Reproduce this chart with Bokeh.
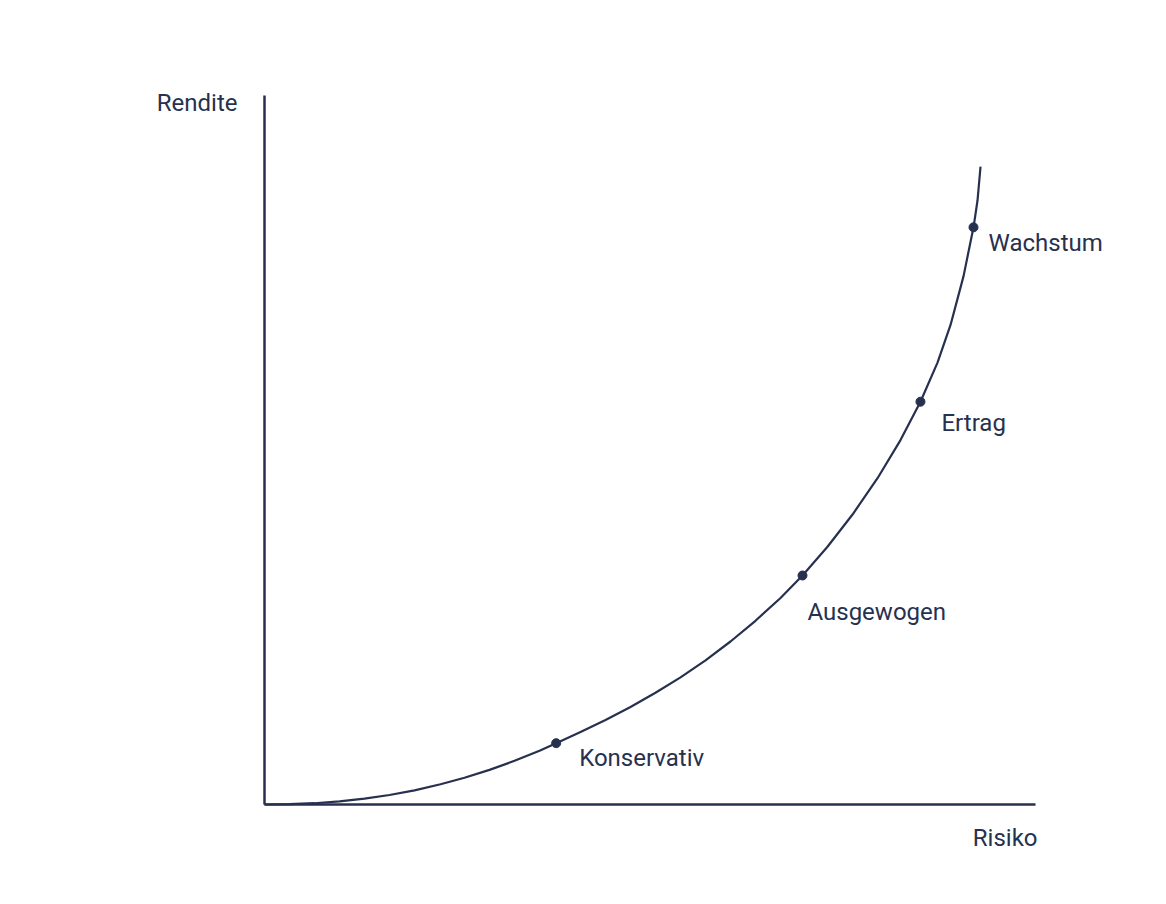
from bokeh.plotting import figure
from bokeh.models import Range1d, ColumnDataSource, LabelSet, Label
from bokeh.core.properties import value
from bokeh.embed import file_html
from bokeh.resources import INLINE

# Efficient-frontier style curve: risk (x) vs. return (y), both on a 0-100 scale
curve_risk = [0, 3.24, 6.49, 9.73, 12.97, 16.21, 19.46, 22.83, 25.94, 29.18, 32.43,
              35.67, 37.83, 40.99, 44.23, 47.47, 50.71, 53.96, 57.20, 60.44, 63.68,
              66.93, 69.78, 73.02, 76.27, 79.51, 82.49, 85.08, 87.29, 88.98, 90.66,
              91.96, 92.48, 92.87]
curve_return = [0, 0.04, 0.18, 0.44, 0.82, 1.34, 2.00, 2.85, 3.77, 4.88, 6.16,
                7.59, 8.65, 10.21, 11.92, 13.75, 15.76, 17.93, 20.34, 22.99, 25.91,
                29.13, 32.30, 36.35, 40.90, 46.02, 51.40, 56.81, 62.33, 67.64, 74.49,
                81.41, 85.19, 89.98]

# Model portfolios placed on the curve
portfolio_names = ["Konservativ", "Ausgewogen", "Ertrag", "Wachstum"]
portfolio_risk = [37.83, 69.78, 85.08, 91.96]
portfolio_return = [8.65, 32.30, 56.81, 81.41]

axis_max = 100
x_title = "Risiko"
y_title = "Rendite"

INK = "#27314f"
FONT = "Roboto"
FONT_SIZE = "24px"

W, H = 1166, 904
# pixel scale: 7.71 px per risk unit, 7.09 px per return unit
px_x, px_y = 7.71, 7.09
origin_px = (264, 804)

p = figure(width=W, height=H, output_backend="svg", toolbar_location=None,
           x_range=Range1d(-origin_px[0] / px_x, (W - origin_px[0]) / px_x),
           y_range=Range1d(-(H - origin_px[1]) / px_y, origin_px[1] / px_y),
           min_border=0, min_border_left=0, min_border_right=0,
           min_border_top=0, min_border_bottom=0)
p.axis.visible = False
p.grid.visible = False
p.outline_line_color = None
p.background_fill_color = "white"
p.border_fill_color = "white"

# axes drawn as plain lines from the origin
p.line([0, axis_max], [0, 0], line_color=INK, line_width=2.5)
p.line([0, 0], [0, axis_max], line_color=INK, line_width=2.5)

p.line(curve_risk, curve_return, line_color=INK, line_width=2.2, line_join="round")

src = ColumnDataSource(dict(x=portfolio_risk, y=portfolio_return, name=portfolio_names,
                            dx=[23, 5, 21, 15], dy=[-15, -37, -21, -16]))
p.scatter("x", "y", source=src, size=9, fill_color=INK, line_color=INK)
p.add_layout(LabelSet(x="x", y="y", text="name", source=src, x_offset="dx", y_offset="dy",
                      text_font=value(FONT), text_font_size=FONT_SIZE, text_color=INK,
                      text_baseline="middle", text_align="left"))

p.add_layout(Label(x=0, y=axis_max, text=y_title, x_offset=-27, y_offset=-7,
                   text_font=FONT, text_font_size=FONT_SIZE, text_color=INK,
                   text_baseline="middle", text_align="right"))
p.add_layout(Label(x=axis_max, y=0, text=x_title, x_offset=2, y_offset=-33,
                   text_font=FONT, text_font_size=FONT_SIZE, text_color=INK,
                   text_baseline="middle", text_align="right"))

open("out.html", "w").write(file_html(p, INLINE))
